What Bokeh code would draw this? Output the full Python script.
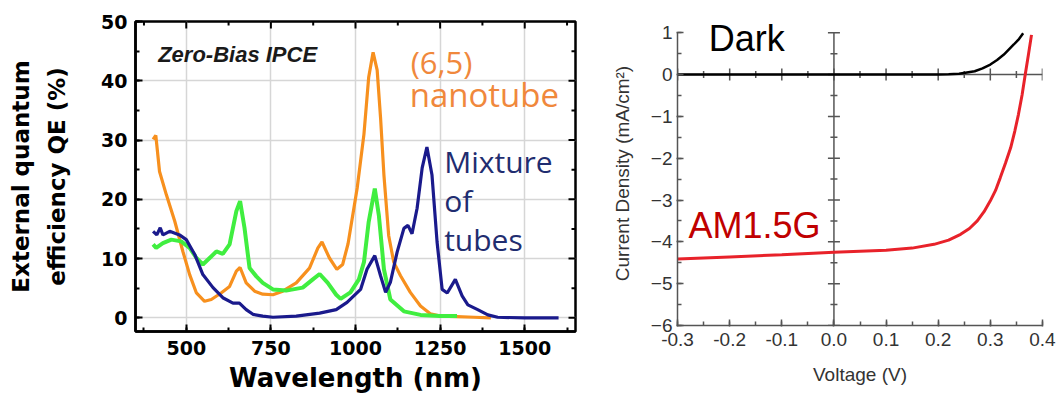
import numpy as np
from bokeh.plotting import figure
from bokeh.models import Range1d, Label, SingleIntervalTicker, PrintfTickFormatter, Span
from bokeh.layouts import row
from bokeh.embed import file_html
from bokeh.resources import INLINE

# ---------------- Left panel data: zero-bias IPCE ----------------
wl_65 = [402, 410, 421, 441, 466, 490, 510, 530, 554, 574, 603, 628, 648, 659, 677, 702,
         726, 756, 785, 825, 864, 889, 901, 923, 945, 962, 978, 1005, 1025, 1039, 1052,
         1064, 1074, 1084, 1098, 1113, 1133, 1162, 1192, 1221, 1251, 1300, 1350, 1400]
qe_65 = [30.1, 30.8, 24.7, 20.8, 16.3, 11.2, 7.3, 4.2, 2.8, 3.1, 4.2, 5.3, 7.9, 8.5, 5.9, 4.5,
         4.0, 3.9, 4.5, 5.9, 8.4, 11.8, 12.8, 10.1, 8.2, 9.0, 12.5, 21.9, 31.0, 40.6, 44.8,
         41.8, 33.8, 24.1, 13.9, 9.4, 7.1, 4.3, 2.0, 0.7, 0.3, 0.2, 0.1, 0.0]

wl_green = [402, 411, 431, 456, 485, 510, 530, 549, 569, 589, 608, 628, 648, 659, 672, 687,
            707, 726, 756, 795, 844, 874, 894, 918, 943, 956, 985, 1010, 1025, 1039, 1057,
            1069, 1084, 1103, 1143, 1192, 1250, 1300]
qe_green = [12.4, 11.8, 12.6, 13.2, 12.9, 11.8, 10.1, 9.0, 10.1, 11.2, 10.8, 12.4, 18.0, 19.7, 15.2, 8.4,
            7.0, 5.9, 4.8, 4.6, 5.1, 6.5, 7.4, 5.9, 3.9, 3.2, 4.3, 6.5, 9.4, 16.2, 21.8,
            17.3, 8.2, 3.1, 1.1, 0.5, 0.3, 0.3]

wl_mix = [402, 413, 423, 431, 451, 480, 500, 525, 549, 579, 608, 638, 657, 677, 697, 726,
          756, 825, 894, 943, 975, 1015, 1034, 1057, 1074, 1089, 1103, 1123, 1143, 1155,
          1167, 1182, 1197, 1211, 1226, 1241, 1256, 1271, 1295, 1315, 1332, 1361, 1391,
          1420, 1500, 1600]
qe_mix = [14.6, 14.0, 15.2, 14.0, 14.6, 14.0, 13.2, 10.7, 7.3, 5.1, 3.4, 2.5, 2.5, 1.4, 0.6, 0.3,
          0.1, 0.3, 0.8, 1.4, 2.6, 4.8, 8.2, 10.5, 7.1, 4.3, 6.0, 11.1, 15.1, 15.6,
          14.2, 18.5, 25.3, 28.8, 24.1, 12.8, 4.8, 4.2, 6.5, 3.7, 2.2, 1.4, 0.5,
          0.1, 0.0, 0.0]

# tick positions of the IPCE panel
wl_major = [500, 750, 1000, 1250, 1500]
wl_minor = [375, 625, 875, 1125, 1375, 1625]
qe_major = [0, 10, 20, 30, 40, 50]
qe_minor = [5, 15, 25, 35, 45]

# ---------------- Right panel data: J-V curves ----------------
v_dark = [-0.3, 0.0, 0.15, 0.2, 0.22, 0.24, 0.27, 0.285, 0.3, 0.313, 0.326, 0.345, 0.355, 0.363]
j_dark = [0.0, 0.0, 0.0, 0.003, 0.01, 0.02, 0.08, 0.15, 0.24, 0.35, 0.48, 0.72, 0.85, 0.99]

v_light = [-0.3, -0.2, -0.1, 0.0, 0.1, 0.15, 0.192, 0.22, 0.243, 0.26, 0.275, 0.288, 0.3,
           0.31, 0.319, 0.329, 0.339, 0.347, 0.354, 0.361, 0.367, 0.373, 0.379]
j_light = [-4.41, -4.36, -4.31, -4.25, -4.20, -4.15, -4.06, -3.96, -3.82, -3.68, -3.50, -3.28, -3.02,
           -2.77, -2.47, -2.12, -1.75, -1.35, -0.95, -0.48, 0.0, 0.47, 0.95]

# tick positions on the zero lines of the J-V panel
v_major = [-0.3, -0.2, -0.1, 0.0, 0.1, 0.2, 0.3, 0.4]
v_minor = [-0.25, -0.15, -0.05, 0.05, 0.15, 0.25, 0.35]
j_major = [1, 0, -1, -2, -3, -4, -5, -6]
j_minor = [0.5, -0.5, -1.5, -2.5, -3.5, -4.5, -5.5]

ORANGE = "#f7901e"
GREEN = "#40ee40"
NAVY = "#1a1a8c"

BORDER_TOP = 21
BORDER_BOTTOM = 67

# ================= Left figure =================
p1 = figure(width=598, height=398, x_range=Range1d(350, 1650), y_range=Range1d(-2.3, 50),
            output_backend="svg", toolbar_location=None,
            min_border_left=135, min_border_right=23,
            min_border_top=BORDER_TOP, min_border_bottom=BORDER_BOTTOM)
p1.background_fill_color = "white"
p1.border_fill_color = "white"
p1.outline_line_color = "black"
p1.outline_line_width = 2.5

xt = SingleIntervalTicker(interval=250, num_minor_ticks=2)
yt = SingleIntervalTicker(interval=10, num_minor_ticks=2)
p1.xaxis.ticker = xt
p1.yaxis.ticker = yt
p1.xgrid.ticker = xt
p1.ygrid.ticker = yt
p1.grid.grid_line_color = "#d6d6d6"
p1.grid.grid_line_width = 1.5

for ax in (p1.xaxis[0], p1.yaxis[0]):
    ax.axis_line_color = "black"
    ax.axis_line_width = 2.5
    ax.major_tick_line_color = "black"
    ax.minor_tick_line_color = "black"
    ax.major_tick_line_width = 2
    ax.minor_tick_line_width = 2
    ax.major_tick_in = 7
    ax.major_tick_out = 0
    ax.minor_tick_in = 4
    ax.minor_tick_out = 0
    ax.major_label_text_font = "DejaVu Sans"
    ax.major_label_text_font_style = "bold"
    ax.major_label_text_font_size = "19px"
    ax.major_label_text_color = "black"
    ax.axis_label_text_font = "DejaVu Sans"
    ax.axis_label_text_font_style = "bold"
    ax.axis_label_text_color = "black"

p1.xaxis.axis_label = "Wavelength (nm)"
p1.xaxis.axis_label_text_font_size = "26px"
p1.xaxis.major_label_standoff = 9
p1.xaxis.axis_label_standoff = 5

p1.yaxis.axis_label = "External quantum\nefficiency QE (%)"
p1.yaxis.axis_label_text_font_size = "23px"
p1.yaxis.axis_label_text_line_height = 1.4
p1.yaxis.major_label_standoff = 8
p1.yaxis.axis_label_standoff = 28

# mirrored inside ticks on top and right edges of the frame
p1.ray(x=wl_major, y=50, length=7, length_units="screen", angle=-np.pi / 2,
       line_color="black", line_width=2)
p1.ray(x=wl_minor, y=50, length=4, length_units="screen", angle=-np.pi / 2,
       line_color="black", line_width=2)
p1.ray(x=1650, y=qe_major, length=7, length_units="screen", angle=np.pi,
       line_color="black", line_width=2)
p1.ray(x=1650, y=qe_minor, length=4, length_units="screen", angle=np.pi,
       line_color="black", line_width=2)

p1.line(wl_65, qe_65, line_color=ORANGE, line_width=3.2)
p1.line(wl_green, qe_green, line_color=GREEN, line_width=4)
p1.line(wl_mix, qe_mix, line_color=NAVY, line_width=3.2)

p1.add_layout(Label(x=417, y=44.4, text="Zero-Bias IPCE", text_font="Liberation Sans",
                    text_font_style="bold italic", text_font_size="22px", text_color="#1a1a1a",
                    text_baseline="middle"))
p1.add_layout(Label(x=1163, y=43.2, text="(6,5)", text_font="Open Sans", text_font_size="31px",
                    text_color="#f0883c", text_baseline="middle"))
p1.add_layout(Label(x=1160, y=37.6, text="nanotube", text_font="Open Sans", text_font_size="33px",
                    text_color="#f0883c", text_baseline="middle"))
for txt, yy in (("Mixture", 26.3), ("of", 19.8), ("tubes", 13.3)):
    p1.add_layout(Label(x=1262, y=yy, text=txt, text_font="Open Sans", text_font_size="30px",
                        text_color="#1f2d70", text_baseline="middle"))

# ================= Right figure =================
GRAY = "#555555"
p2 = figure(width=460, height=392, x_range=Range1d(-0.3001, 0.4001), y_range=Range1d(-6.001, 1.27),
            output_backend="svg", toolbar_location=None,
            min_border_left=79, min_border_right=16,
            min_border_top=BORDER_TOP, min_border_bottom=BORDER_BOTTOM)
p2.outline_line_color = None
p2.grid.visible = False
p2.border_fill_color = "white"

p2.xaxis.ticker = SingleIntervalTicker(interval=0.1, num_minor_ticks=2)
p2.yaxis.ticker = SingleIntervalTicker(interval=1, num_minor_ticks=2)
p2.xaxis.formatter = PrintfTickFormatter(format="%.1f")
p2.yaxis.bounds = (-6.001, 1)

for ax in (p2.xaxis[0], p2.yaxis[0]):
    ax.axis_line_color = GRAY
    ax.axis_line_width = 1.5
    ax.major_tick_line_color = GRAY
    ax.minor_tick_line_color = GRAY
    ax.major_tick_line_width = 1.5
    ax.minor_tick_line_width = 1.5
    ax.major_tick_in = 6
    ax.major_tick_out = 1
    ax.minor_tick_in = 4
    ax.minor_tick_out = 0
    ax.major_label_text_font = "Liberation Sans"
    ax.major_label_text_font_size = "19px"
    ax.major_label_text_color = "#333333"
    ax.axis_label_text_font = "Liberation Sans"
    ax.axis_label_text_font_style = "normal"
    ax.axis_label_text_font_size = "19px"
    ax.axis_label_text_color = "#333333"

p2.xaxis.axis_label = "Voltage (V)"
p2.xaxis.major_label_standoff = 6
p2.xaxis.axis_label_standoff = 15
p2.yaxis.axis_label = "Current Density (mA/cm²)"
p2.yaxis.major_label_standoff = 4
p2.yaxis.axis_label_standoff = 15

# zero lines crossing the plot, with crossing ticks
p2.add_layout(Span(location=0, dimension="width", line_color=GRAY, line_width=1.5, level="underlay"))
p2.segment(x0=0, y0=j_major[-1], x1=0, y1=j_major[0], line_color=GRAY, line_width=1.5)
p2.scatter(x=v_major, y=0, marker="dash", size=12, angle=np.pi / 2, line_color=GRAY, line_width=1.5)
p2.scatter(x=v_minor, y=0, marker="dash", size=7, angle=np.pi / 2, line_color=GRAY, line_width=1.5)
p2.scatter(x=0, y=j_major, marker="dash", size=12, line_color=GRAY, line_width=1.5)
p2.scatter(x=0, y=j_minor, marker="dash", size=7, line_color=GRAY, line_width=1.5)

p2.line(v_dark, j_dark, line_color="black", line_width=2.5)
p2.line(v_light, j_light, line_color="#e8222a", line_width=3)

p2.add_layout(Label(x=-0.24, y=0.875, text="Dark", text_font="Liberation Sans",
                    text_font_size="36px", text_color="black", text_baseline="middle"))
p2.add_layout(Label(x=-0.279, y=-3.62, text="AM1.5G", text_font="Liberation Sans",
                    text_font_size="36px", text_color="#c00000", text_baseline="middle"))

layout = row(p1, p2)
open("out.html", "w").write(file_html(layout, INLINE))
